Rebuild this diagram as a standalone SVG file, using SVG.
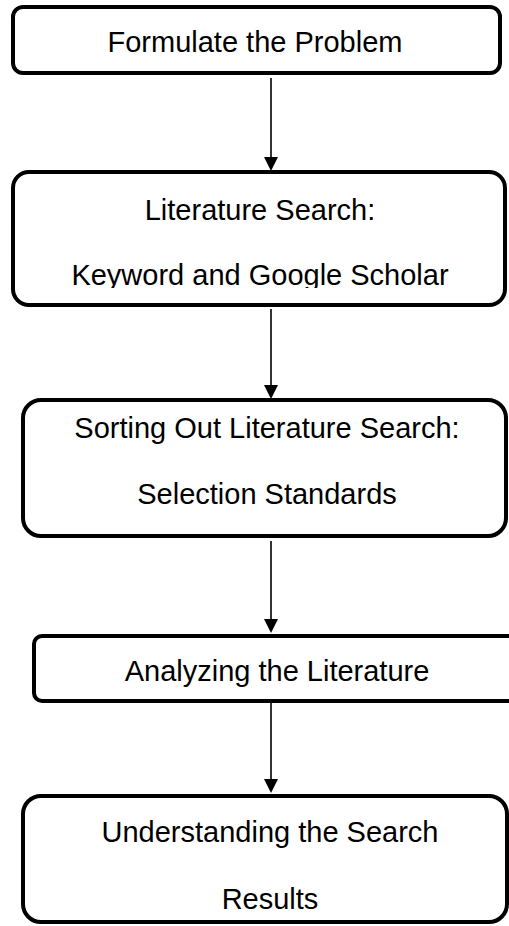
<svg xmlns="http://www.w3.org/2000/svg" width="509" height="926" viewBox="0 0 509 926">
<style>
.box{fill:#fff;stroke:#000;stroke-width:4}
.t{font-family:"Liberation Sans",Arial,sans-serif;font-size:29px;fill:#000;text-anchor:middle}
.c{stroke:#000;stroke-width:1.6;fill:none}
</style>
<defs>
<marker id="ah" markerWidth="14" markerHeight="14" viewBox="0 0 14 14" refX="7" refY="14" orient="auto" markerUnits="userSpaceOnUse">
<path d="M0,0 L14,0 L7,14 Z" fill="#000" transform="rotate(-90 7 7)"/>
</marker>
<clipPath id="clip2"><rect x="0" y="170" width="509" height="118"/></clipPath>
</defs>
<rect width="509" height="926" fill="#fff"/>
<g id="connectors">
<line class="c" x1="271" y1="78" x2="271" y2="158"/>
<path d="M264,157 L278,157 L271,171 Z" fill="#000"/>
<line class="c" x1="271" y1="309" x2="271" y2="386"/>
<path d="M264,385 L278,385 L271,399 Z" fill="#000"/>
<line class="c" x1="271" y1="541" x2="271" y2="620"/>
<path d="M264,619 L278,619 L271,633 Z" fill="#000"/>
<line class="c" x1="271" y1="703" x2="271" y2="780"/>
<path d="M264,779 L278,779 L271,793 Z" fill="#000"/>
</g>
<g id="n1">
<rect class="box" x="13" y="7" width="487" height="66" rx="10"/>
<text class="t" x="255" y="52">Formulate the Problem</text>
</g>
<g id="n2">
<rect class="box" x="13" y="172" width="492" height="133" rx="16"/>
<text class="t" x="260" y="220">Literature Search:</text>
<text class="t" x="260" y="285" clip-path="url(#clip2)">Keyword and Google Scholar</text>
</g>
<g id="n3">
<rect class="box" x="23" y="400" width="483" height="136" rx="18"/>
<text class="t" x="267" y="438">Sorting Out Literature Search:</text>
<text class="t" x="267" y="504">Selection Standards</text>
</g>
<g id="n4">
<rect class="box" x="34" y="636" width="490" height="65" rx="8"/>
<text class="t" x="277" y="681">Analyzing the Literature</text>
</g>
<g id="n5">
<rect class="box" x="23" y="796" width="484" height="126" rx="18"/>
<text class="t" x="270" y="842">Understanding the Search</text>
<text class="t" x="270" y="909">Results</text>
</g>
</svg>
